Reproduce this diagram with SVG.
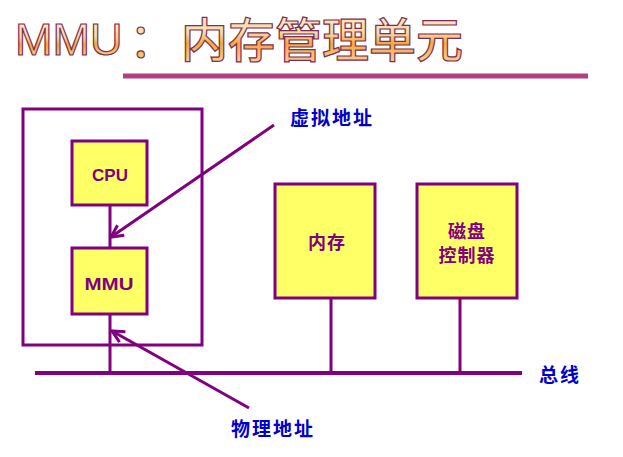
<svg xmlns="http://www.w3.org/2000/svg" width="623" height="457" viewBox="0 0 623 457">
<style>
.box{fill:#ffff66;stroke:#800080;stroke-width:3}
.frame{fill:none;stroke:#800080;stroke-width:3}
.ln{stroke:#800080;stroke-width:3;fill:none}
.bus{stroke:#800080;stroke-width:4}
.arr{stroke:#800080;stroke-width:3;fill:none;marker-end:url(#ah)}
.en{font-family:"Liberation Sans",Arial,sans-serif;font-weight:bold;font-size:17px;fill:#800080;text-anchor:middle}
.cn{font-family:"Noto Sans CJK SC",sans-serif;font-weight:bold;font-size:18px;fill:#800080;text-anchor:middle;letter-spacing:1px}
.lb{font-family:"Noto Sans CJK SC",sans-serif;font-weight:bold;font-size:19px;fill:#0000cc;letter-spacing:2px}
.title{fill:url(#tg);stroke:#7a3050;stroke-width:1.2}
</style>
<defs>
<linearGradient id="tg" x1="0" y1="0" x2="0" y2="1">
<stop offset="0" stop-color="#fff0e0"/>
<stop offset="0.45" stop-color="#fcd8a8"/>
<stop offset="0.6" stop-color="#f5a840"/>
<stop offset="1" stop-color="#fde0c0"/>
</linearGradient>
<marker id="ah" viewBox="0 0 10 10" refX="9" refY="5" markerWidth="5" markerHeight="5" orient="auto" markerUnits="strokeWidth">
<path d="M1,1 L9,5 L1,9" fill="none" stroke="#800080" stroke-width="2"/>
</marker>
</defs>
<g id="title">
<text class="title" x="15" y="55" font-family="Liberation Sans,Arial,sans-serif" font-size="45">MMU</text>
<text class="title" x="129" y="57" font-family="Noto Sans CJK SC,sans-serif" font-size="47">：</text>
<text class="title" x="181" y="57" font-family="Noto Sans CJK SC,sans-serif" font-size="47" font-weight="500">内存管理单元</text>
<line x1="123" y1="76" x2="588" y2="76" stroke="#b04080" stroke-width="5"/>
</g>
<g id="connectors">
<line class="ln" x1="110" y1="205" x2="110" y2="248"/>
<line class="ln" x1="110" y1="314" x2="110" y2="373"/>
<line class="ln" x1="331" y1="298" x2="331" y2="373"/>
<line class="ln" x1="460" y1="298" x2="460" y2="373"/>
<line class="bus" x1="35" y1="373" x2="522" y2="373"/>
<line class="arr" x1="274" y1="125" x2="111" y2="237"/>
<line class="arr" x1="249" y1="408" x2="112" y2="331"/>
</g>
<g id="host"><rect class="frame" x="23" y="109" width="179" height="236"/></g>
<g id="cpu"><rect class="box" x="72" y="141" width="75" height="64"/><text class="en" x="110" y="181">CPU</text></g>
<g id="mmu"><rect class="box" x="72" y="248" width="75" height="66"/><text class="en" x="109" y="290" textLength="49" lengthAdjust="spacingAndGlyphs">MMU</text></g>
<g id="memory"><rect class="box" x="275" y="184" width="100" height="114"/><text class="cn" x="327" y="249">内存</text></g>
<g id="disk"><rect class="box" x="417" y="184" width="100" height="114"/><text class="cn" x="467" y="238">磁盘</text><text class="cn" x="467" y="262">控制器</text></g>
<g id="labels">
<text class="lb" x="290" y="125">虚拟地址</text>
<text class="lb" x="231" y="436">物理地址</text>
<text class="lb" x="539" y="382">总线</text>
</g>
</svg>
